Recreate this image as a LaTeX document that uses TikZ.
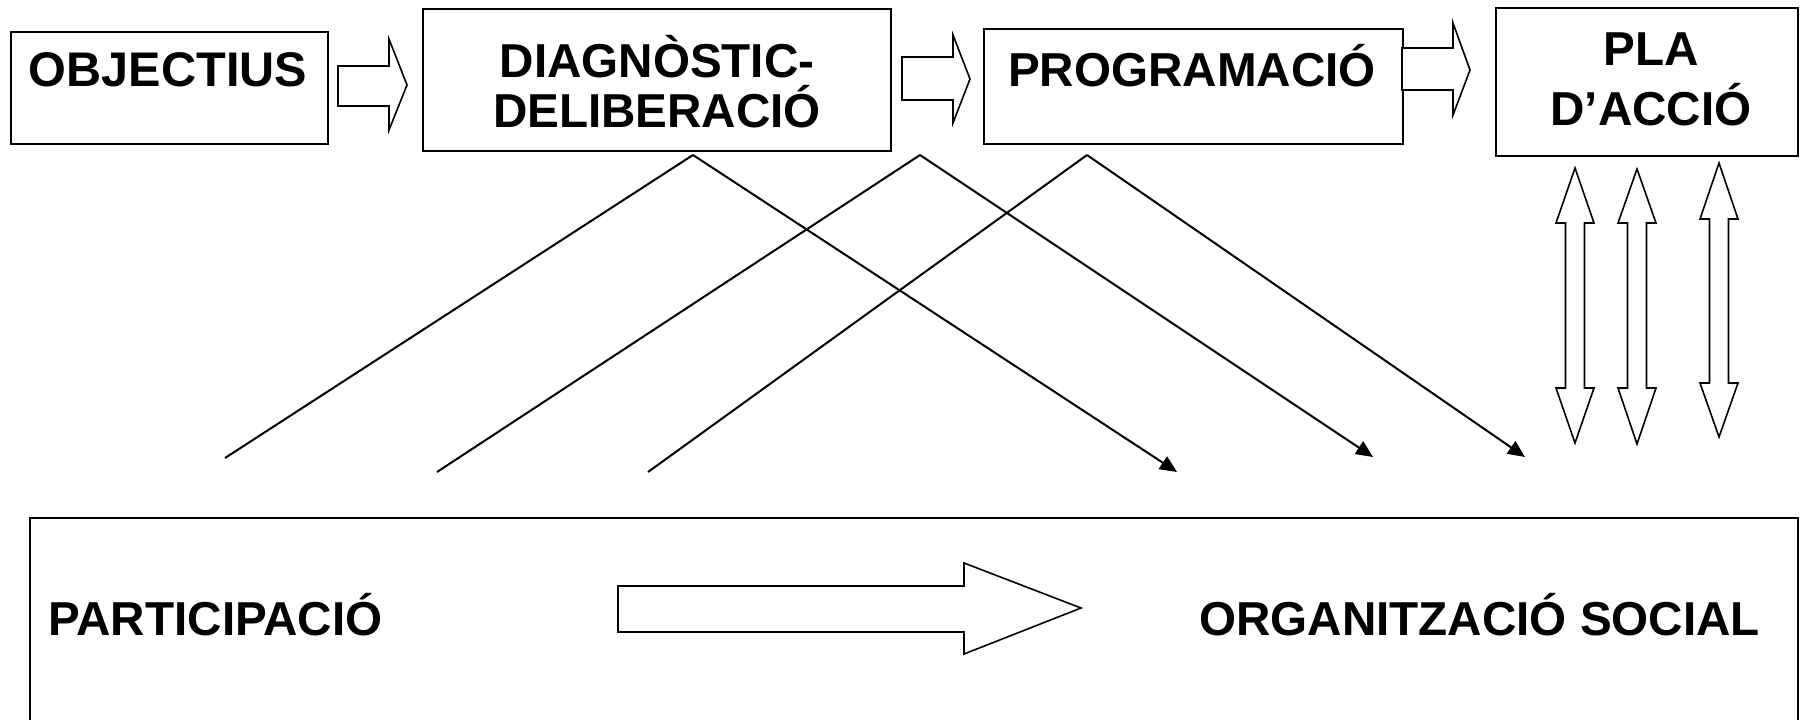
\documentclass[tikz,border=0pt]{standalone}
\usepackage{fontspec}
\setmainfont{Liberation Sans}
\usetikzlibrary{arrows.meta}
\begin{document}
\begin{tikzpicture}[x=0.5pt,y=-0.5pt,
  box/.style={draw, line width=1.2pt, inner sep=0pt, anchor=north west},
  lbl/.style={font=\fontsize{23.8}{26}\selectfont\bfseries, inner sep=0pt},
  biglbl/.style={lbl, font=\fontsize{24.3}{26}\selectfont\bfseries},
  blockarrow/.style={draw, line width=0.8pt, fill=white, line join=miter},
  link/.style={line width=1pt},
  linkarrow/.style={line width=1pt, -{Triangle[length=8.5pt,width=7.5pt]}}
]
\useasboundingbox (0,0) rectangle (1800,719);

% boxes
\node[box, minimum width=158.5pt, minimum height=56pt] (obj) at (10,31) {};
\node[box, minimum width=234pt, minimum height=71pt] (diag) at (422,8) {};
\node[box, minimum width=209.5pt, minimum height=57.5pt] (prog) at (983,28) {};
\node[box, minimum width=151pt, minimum height=74pt] (pla) at (1495,7) {};
\node[box, minimum width=884pt, minimum height=115pt] (soc) at (29,517) {};

% labels
\node[biglbl, anchor=base] (tobj) at (168,86) {OBJECTIUS};
\node[lbl, anchor=base] (tdiag1) at (657,77) {DIAGNÒSTIC-};
\node[lbl, anchor=base] (tdiag2) at (657,127) {DELIBERACIÓ};
\node[lbl, anchor=base] (tprog) at (1192,86) {PROGRAMACIÓ};
\node[lbl, anchor=base] (tpla1) at (1651,65) {PLA};
\node[lbl, anchor=base] (tpla2) at (1651,125) {D’ACCIÓ};
\node[lbl, anchor=base west] (tpart) at (48,635) {PARTICIPACIÓ};
\node[lbl, anchor=base west] (torg) at (1199,635) {ORGANITZACIÓ SOCIAL};

% block arrows between top boxes
\draw[blockarrow] (338,66) -- (389,66) -- (389,39) -- (407,85) -- (389,130) -- (389,106) -- (338,106) -- cycle;
\draw[blockarrow] (902,57) -- (953,57) -- (953,35) -- (970,79) -- (953,123) -- (953,100) -- (902,100) -- cycle;
\draw[blockarrow] (1402,48) -- (1453,48) -- (1453,23) -- (1470,70) -- (1453,115) -- (1453,90) -- (1402,90) -- cycle;

% big arrow in bottom box
\draw[blockarrow] (618,586) -- (964,586) -- (964,563) -- (1081,608) -- (964,654) -- (964,632) -- (618,632) -- cycle;

% double arrows
\foreach \cx/\ty/\hbA/\hbB/\by in {1575/168/223/388/443, 1637/169/223/388/444, 1719/163/219/383/437}{
  \draw[blockarrow] (\cx,\ty) -- (\cx+19,\hbA) -- (\cx+9.5,\hbA) -- (\cx+9.5,\hbB) -- (\cx+19,\hbB)
    -- (\cx,\by) -- (\cx-19,\hbB) -- (\cx-9.5,\hbB) -- (\cx-9.5,\hbA) -- (\cx-19,\hbA) -- cycle;
}

% diagonal connectors
\coordinate (v1) at (693,155);
\coordinate (v2) at (920,155);
\coordinate (v3) at (1087,155);
\coordinate (l1) at (225,458);
\coordinate (l2) at (437,472);
\coordinate (l3) at (648,472);
\coordinate (r1) at (1177,472);
\coordinate (r2) at (1373,457);
\coordinate (r3) at (1525,457);
\draw[link] (l1) -- (v1);
\draw[link] (l2) -- (v2);
\draw[link] (l3) -- (v3);
\draw[linkarrow] (v1) -- (r1);
\draw[linkarrow] (v2) -- (r2);
\draw[linkarrow] (v3) -- (r3);
\end{tikzpicture}
\end{document}
